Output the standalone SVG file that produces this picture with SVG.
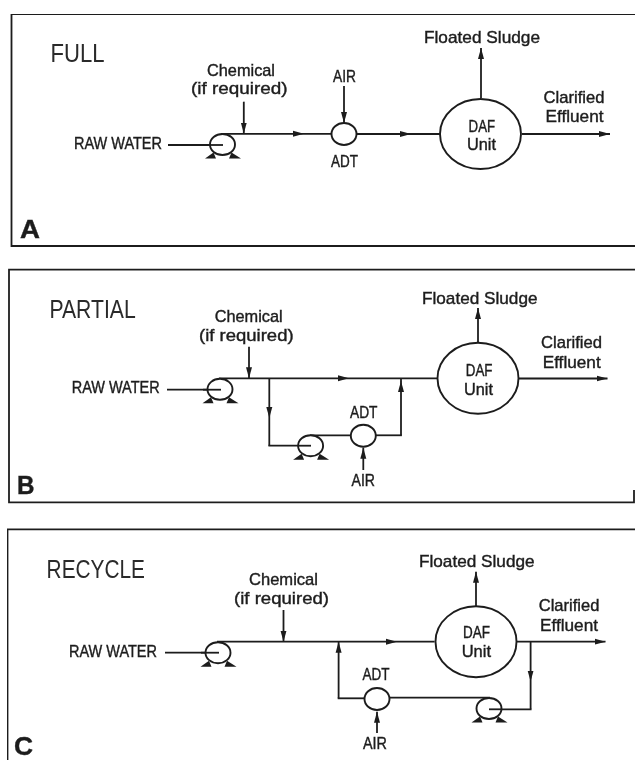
<svg xmlns="http://www.w3.org/2000/svg" width="635" height="760" viewBox="0 0 635 760">
<style>
text{font-family:"Liberation Sans",Arial,sans-serif;fill:#1c1c1c;stroke:#1c1c1c;stroke-width:.4px}
.l{font-size:17px}
.t{font-size:25px;stroke-width:0;fill:#2a2a2a}
.p{font-size:26px;font-weight:bold}
.f{fill:none;stroke:#1f1f1f;stroke-width:1.8px}
.s{fill:#fff;stroke:#1c1c1c;stroke-width:1.9px}
.c{fill:none;stroke:#1c1c1c;stroke-width:1.8px}
.k{fill:#1c1c1c}
</style>
<defs>
<filter id="soft" x="0" y="0" width="1" height="1" filterUnits="objectBoundingBox"><feGaussianBlur stdDeviation="0.4"/></filter>
<marker id="ah" markerUnits="userSpaceOnUse" markerWidth="12" markerHeight="8" refX="11" refY="4" orient="auto"><path d="M0 1L11 4L0 7z" class="k"/></marker>
<marker id="am" markerUnits="userSpaceOnUse" markerWidth="12" markerHeight="8" refX="6" refY="4" orient="auto"><path d="M0 1L11 4L0 7z" class="k"/></marker>
<g id="pump-shape">
<ellipse cx="0" cy="0" rx="12.500" ry="10.500" class="s"/>
<path d="M-17.500 14L-9 8L-6.500 14zM9 8L18.500 14L6.500 14z" class="k"/>
</g>
</defs>
<rect width="635" height="760" fill="#fff"/>
<g filter="url(#soft)">
<g id="frames">
<path class="f" d="M635 14H11.500V246H635"/>
<path class="f" d="M635 269.700H9V502.300H634V490"/>
<path class="f" d="M635 529.300H7.500V760"/>
</g>
<g id="connectors">
<path class="c" d="M168 145H222"/>
<path class="c" marker-mid="url(#am)" d="M221 133.800H299L332 133.800"/>
<path class="c" marker-end="url(#ah)" d="M243.800 101.700V133.500"/>
<path class="c" marker-end="url(#ah)" d="M344 86V123"/>
<path class="c" marker-mid="url(#am)" d="M357 134H406L441 134"/>
<path class="c" marker-end="url(#ah)" d="M481 98V48"/>
<path class="c" marker-end="url(#ah)" d="M522 134H610"/>

<path class="c" d="M167 389.700H220"/>
<path class="c" marker-mid="url(#am)" d="M219 378.300H344L437.400 378.300"/>
<path class="c" marker-end="url(#ah)" d="M249 346.700V378.300"/>
<path class="c" marker-mid="url(#am)" d="M269.300 378.300V413L269.300 445.700"/>
<path class="c" d="M268.400 445.700H310"/>
<path class="c" d="M310 435.300H351"/>
<path class="c" d="M376 435.300H401.900"/>
<path class="c" marker-mid="url(#am)" d="M401 435.300V386L401 378.300"/>
<path class="c" marker-end="url(#ah)" d="M363.300 470V447.700"/>
<path class="c" marker-end="url(#ah)" d="M478 343V308"/>
<path class="c" marker-end="url(#ah)" d="M519 378.500H607.500"/>

<path class="c" d="M165 652.700H218"/>
<path class="c" marker-mid="url(#am)" d="M217 641.700H392L434.600 641.700"/>
<path class="c" marker-end="url(#ah)" d="M283.500 610V641.700"/>
<path class="c" d="M364 698.300H337.700"/>
<path class="c" marker-end="url(#ah)" d="M338.600 698.300V641.700"/>
<path class="c" d="M390 697.700H490"/>
<path class="c" d="M489 709.300H531.500"/>
<path class="c" marker-mid="url(#am)" d="M530.600 641.700V676.500L530.600 709.300"/>
<path class="c" marker-end="url(#ah)" d="M377 733V711.700"/>
<path class="c" marker-end="url(#ah)" d="M476 606.700V571.700"/>
<path class="c" marker-end="url(#ah)" d="M517 641.700H605.500"/>
</g>
<g id="panel-a">
<text class="t" x="50.600" y="62" textLength="54" lengthAdjust="spacingAndGlyphs">FULL</text>
<text class="p" x="20" y="238" textLength="20" lengthAdjust="spacingAndGlyphs">A</text>
<text class="l" x="207" y="76" textLength="68" lengthAdjust="spacingAndGlyphs">Chemical</text>
<text class="l" x="191" y="94" textLength="96.500" lengthAdjust="spacingAndGlyphs">(if required)</text>
<text class="l" x="74" y="149" textLength="88" lengthAdjust="spacingAndGlyphs">RAW WATER</text>
<text class="l" x="424" y="42.700" textLength="116" lengthAdjust="spacingAndGlyphs">Floated Sludge</text>
<text class="l" x="543.500" y="103" textLength="61" lengthAdjust="spacingAndGlyphs">Clarified</text>
<text class="l" x="545.500" y="122" textLength="58" lengthAdjust="spacingAndGlyphs">Effluent</text>
<text class="l" x="333" y="81.700" textLength="23" lengthAdjust="spacingAndGlyphs">AIR</text>
</g>
<g id="a-pump"><use href="#pump-shape" x="222.500" y="144.500"/><path class="c" d="M205 145H223"/></g>
<g id="a-adt"><ellipse class="s" cx="344" cy="134" rx="12.500" ry="11"/><text class="l" x="331" y="166.700" textLength="27" lengthAdjust="spacingAndGlyphs">ADT</text></g>
<g id="a-daf"><ellipse class="s" cx="480.500" cy="134" rx="40.500" ry="35"/><text class="l" x="468.600" y="131.700" textLength="26.500" lengthAdjust="spacingAndGlyphs">DAF</text><text class="l" x="467" y="150" textLength="29" lengthAdjust="spacingAndGlyphs">Unit</text></g>

<g id="panel-b">
<text class="t" x="49.400" y="318.300" textLength="86.300" lengthAdjust="spacingAndGlyphs">PARTIAL</text>
<text class="p" x="17" y="493.700" textLength="17.500" lengthAdjust="spacingAndGlyphs">B</text>
<text class="l" x="214.700" y="322.300" textLength="68" lengthAdjust="spacingAndGlyphs">Chemical</text>
<text class="l" x="199" y="341" textLength="94.600" lengthAdjust="spacingAndGlyphs">(if required)</text>
<text class="l" x="71.700" y="392.700" textLength="88" lengthAdjust="spacingAndGlyphs">RAW WATER</text>
<text class="l" x="422" y="303.700" textLength="115.500" lengthAdjust="spacingAndGlyphs">Floated Sludge</text>
<text class="l" x="541" y="348.300" textLength="61" lengthAdjust="spacingAndGlyphs">Clarified</text>
<text class="l" x="542.700" y="367.700" textLength="58" lengthAdjust="spacingAndGlyphs">Effluent</text>
<text class="l" x="351.500" y="485.700" textLength="23.500" lengthAdjust="spacingAndGlyphs">AIR</text>
</g>
<g id="b-pump-1"><use href="#pump-shape" x="220" y="389.300"/><path class="c" d="M203 389.700H221"/></g>
<g id="b-pump-2"><use href="#pump-shape" x="310.600" y="445.700"/><path class="c" d="M298 445.700H311"/></g>
<g id="b-adt"><ellipse class="s" cx="363.300" cy="435.700" rx="12.500" ry="11"/><text class="l" x="350" y="417.700" textLength="27.500" lengthAdjust="spacingAndGlyphs">ADT</text></g>
<g id="b-daf"><ellipse class="s" cx="478" cy="378.300" rx="40.500" ry="35.500"/><text class="l" x="465.800" y="375.700" textLength="26.700" lengthAdjust="spacingAndGlyphs">DAF</text><text class="l" x="464" y="395" textLength="29" lengthAdjust="spacingAndGlyphs">Unit</text></g>

<g id="panel-c">
<text class="t" x="46.600" y="577.700" textLength="98.400" lengthAdjust="spacingAndGlyphs">RECYCLE</text>
<text class="p" x="14" y="754.500" textLength="19" lengthAdjust="spacingAndGlyphs">C</text>
<text class="l" x="249" y="585" textLength="69" lengthAdjust="spacingAndGlyphs">Chemical</text>
<text class="l" x="234" y="603.700" textLength="95" lengthAdjust="spacingAndGlyphs">(if required)</text>
<text class="l" x="69" y="656.700" textLength="88" lengthAdjust="spacingAndGlyphs">RAW WATER</text>
<text class="l" x="419" y="566.700" textLength="115.600" lengthAdjust="spacingAndGlyphs">Floated Sludge</text>
<text class="l" x="538.700" y="611" textLength="60.700" lengthAdjust="spacingAndGlyphs">Clarified</text>
<text class="l" x="540" y="631" textLength="58" lengthAdjust="spacingAndGlyphs">Effluent</text>
<text class="l" x="363" y="749.300" textLength="24" lengthAdjust="spacingAndGlyphs">AIR</text>
</g>
<g id="c-pump-1"><use href="#pump-shape" x="218" y="652.700"/><path class="c" d="M201 652.700H219"/></g>
<g id="c-pump-2"><use href="#pump-shape" x="489" y="708.500"/><path class="c" d="M489 709.300H502"/></g>
<g id="c-adt"><ellipse class="s" cx="377" cy="699" rx="12.500" ry="11"/><text class="l" x="362.500" y="680" textLength="27" lengthAdjust="spacingAndGlyphs">ADT</text></g>
<g id="c-daf"><ellipse class="s" cx="476" cy="641.700" rx="40.500" ry="35.500"/><text class="l" x="463" y="637.700" textLength="27" lengthAdjust="spacingAndGlyphs">DAF</text><text class="l" x="461.700" y="657.300" textLength="29.300" lengthAdjust="spacingAndGlyphs">Unit</text></g>
</g>
</svg>
